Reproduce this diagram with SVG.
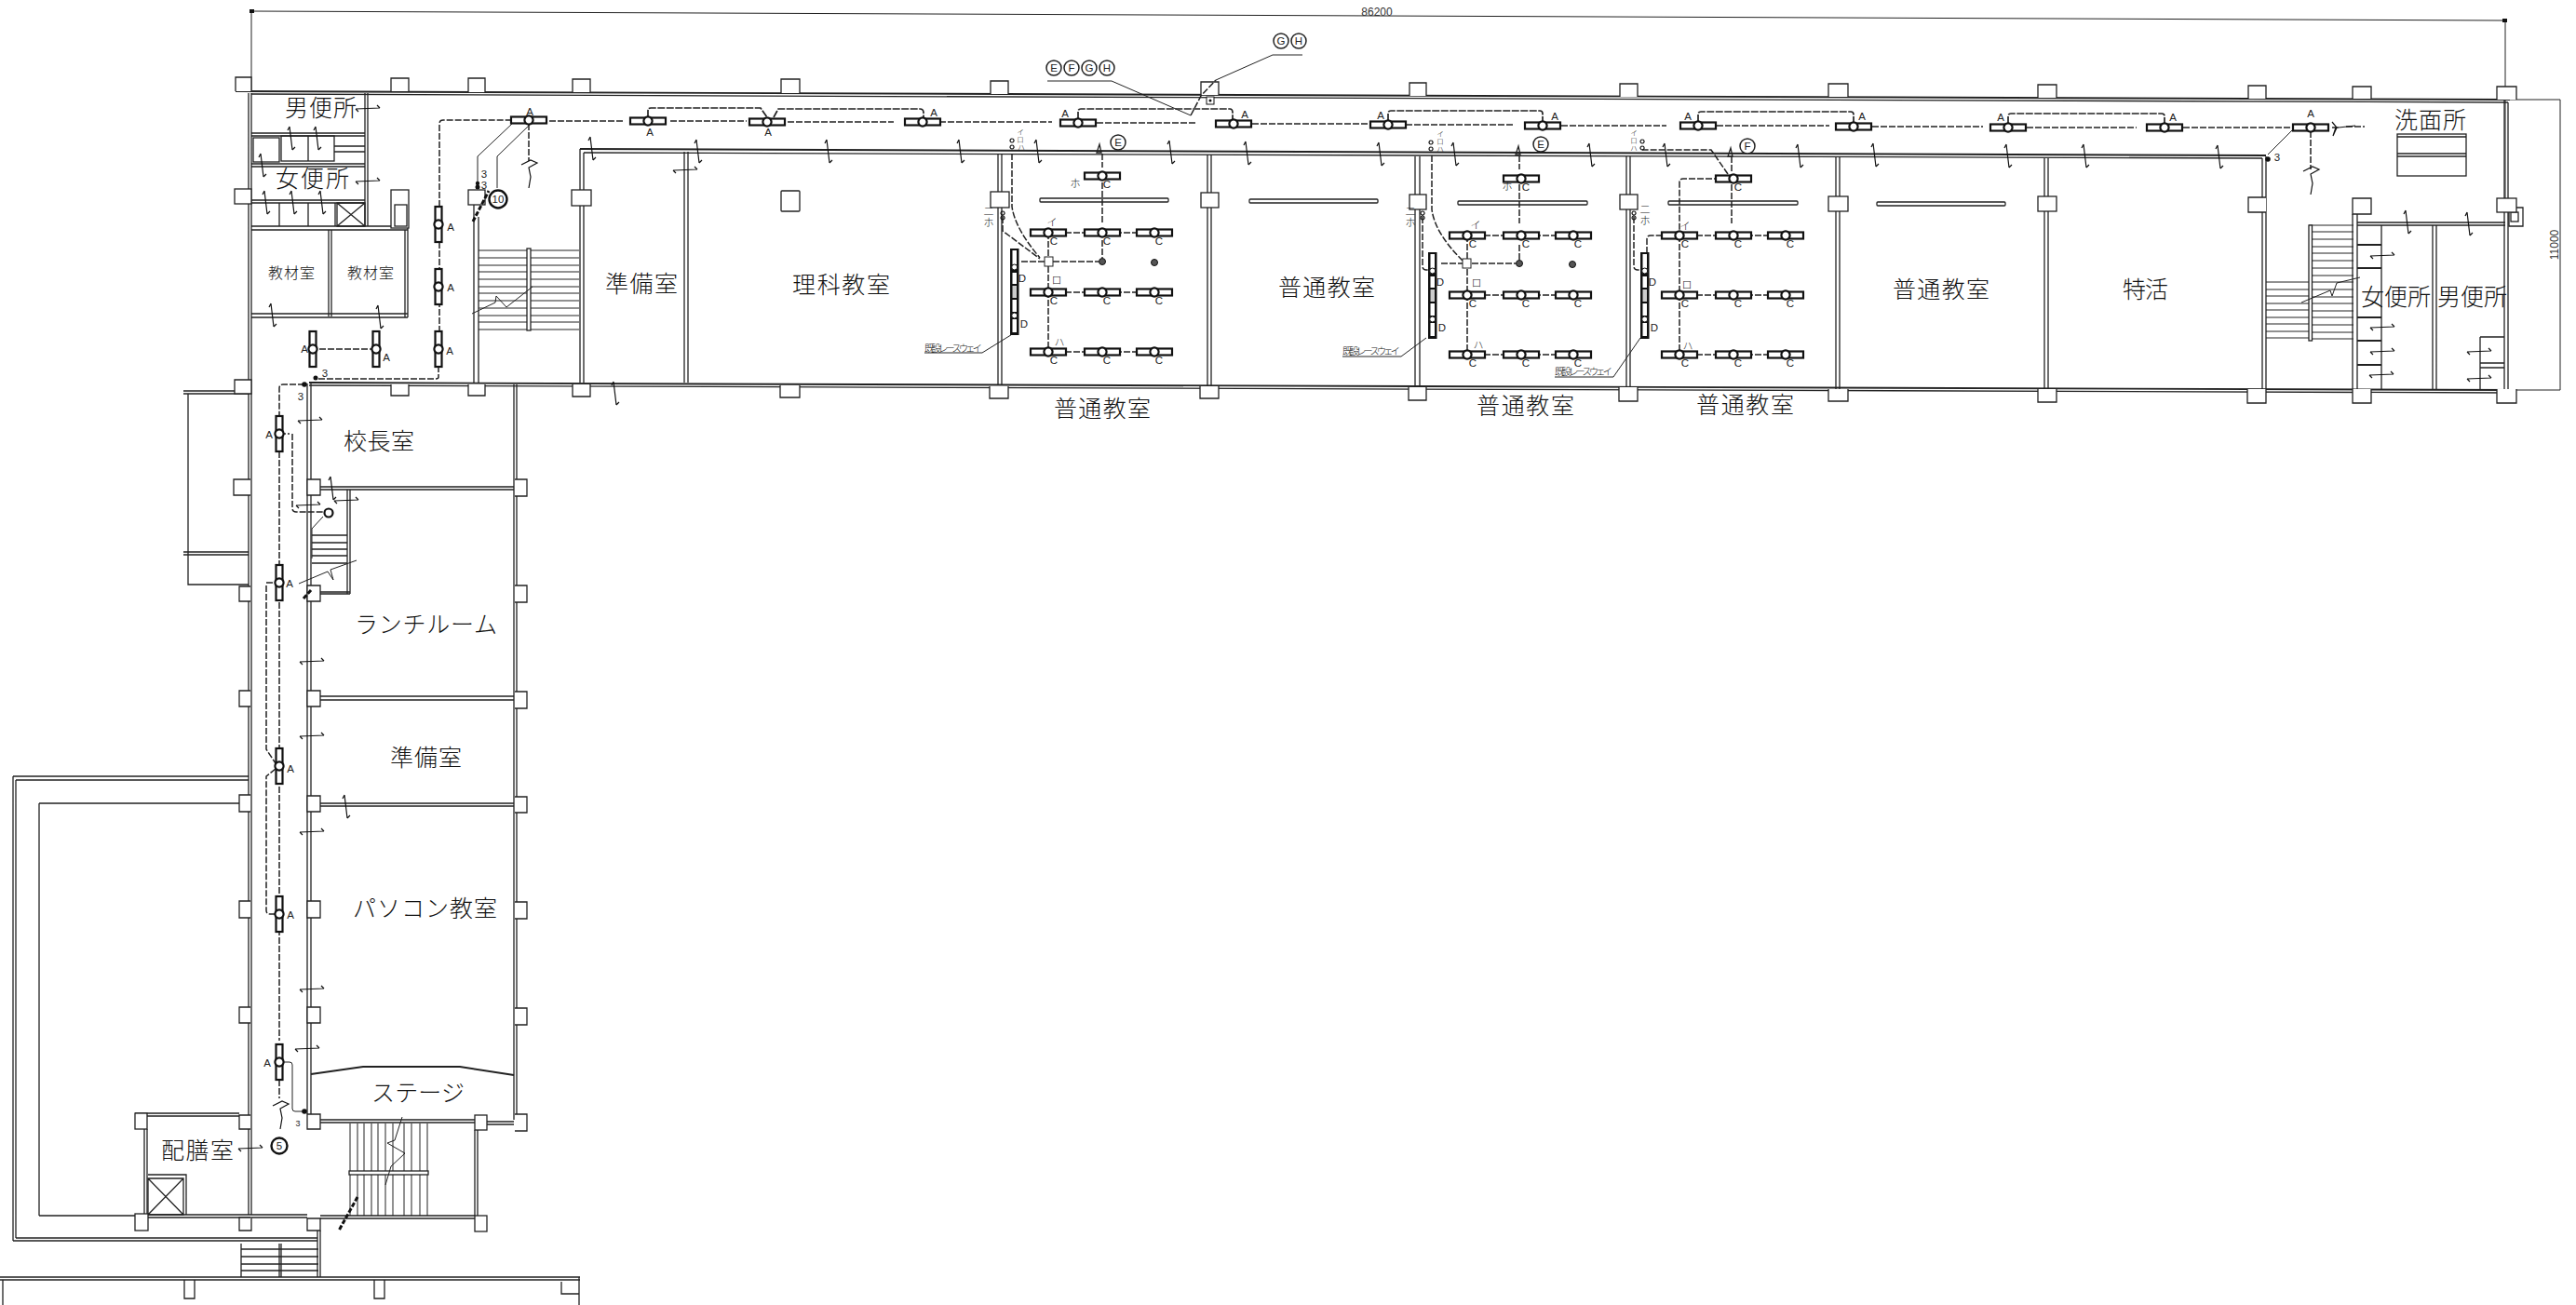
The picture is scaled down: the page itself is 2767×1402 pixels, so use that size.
<svg xmlns="http://www.w3.org/2000/svg" width="2767" height="1402" viewBox="0 0 2767 1402">
<style>
.w{fill:none;stroke:#222;stroke-width:1.3}
.t{fill:none;stroke:#222;stroke-width:1.9}
.s{fill:none;stroke:#222;stroke-width:1}
.c{fill:#fff;stroke:#222;stroke-width:1.3}
.d{fill:none;stroke:#222;stroke-width:1.5;stroke-dasharray:7 2}
.e{fill:none;stroke:#222;stroke-width:1.7;stroke-dasharray:8 1.5}
.b{fill:none;stroke:#111;stroke-width:3;stroke-dasharray:5 2}
.l{fill:#fff;stroke:#111;stroke-width:2.2}
.m{fill:none;stroke:#111;stroke-width:1.2}
.j{font-family:"Noto Sans CJK JP","Liberation Sans",sans-serif;fill:#111;font-weight:300}
.r{font-size:25px}
.k{font-size:11px;text-anchor:middle}
.q{font-size:7.5px;text-anchor:middle}
.a{font-family:"Liberation Sans",sans-serif;font-size:11.5px;text-anchor:middle;fill:#222}
.o{fill:#fff;stroke:#222;stroke-width:1.5}
.o2{fill:#fff;stroke:#111;stroke-width:2.4}
</style>
<defs>
<g id="lh"><rect class="l" x="-19" y="-3.5" width="38" height="7"/><circle class="l" r="4.6"/></g>
<g id="lv"><rect class="l" x="-3.5" y="-19" width="7" height="38"/><circle class="l" r="4.6"/></g>
<path id="dv" class="m" d="M-2-13 1 12M-2-13-4-9M1 12 4 9"/>
<path id="dh" class="m" d="M-13 0 13-1M-13 0-10 3M13-1 10-4"/>
<path id="z" class="m" d="M-8 2 2-3 9 0 0 5 2 15 0 27"/>
<g id="rack"><rect x="0" y="0" width="9.5" height="93" fill="#111"/><g fill="#fff"><rect x="2.5" y="2" width="4.5" height="15"/><rect x="2.5" y="26" width="4.5" height="12"/><rect x="2.5" y="40" width="4.5" height="13" fill="#ccc"/><rect x="2.5" y="55" width="4.5" height="13"/><rect x="2.5" y="76" width="4.5" height="14"/></g><circle cx="4.7" cy="20" r="3" fill="#fff" stroke="#111"/><circle cx="4.7" cy="72" r="3" fill="#fff" stroke="#111"/><text class="a" x="13" y="36">D</text><text class="a" x="15" y="85">D</text></g>
<g id="room">
<path class="d" d="M1126 250H1240M1126 314H1240M1126 378H1240M1126 250V378"/>
<use href="#lh" x="1184" y="189"/><use href="#lh" x="1126" y="250"/><use href="#lh" x="1184" y="250"/><use href="#lh" x="1240" y="250"/><use href="#lh" x="1126" y="314"/><use href="#lh" x="1184" y="314"/><use href="#lh" x="1240" y="314"/><use href="#lh" x="1126" y="378"/><use href="#lh" x="1184" y="378"/><use href="#lh" x="1240" y="378"/>
<g class="a"><text x="1189" y="202">C</text><text x="1132" y="263">C</text><text x="1189" y="263">C</text><text x="1245" y="263">C</text><text x="1132" y="327">C</text><text x="1189" y="327">C</text><text x="1245" y="327">C</text><text x="1132" y="391">C</text><text x="1189" y="391">C</text><text x="1245" y="391">C</text></g>
</g>
</defs>

<g id="dimensions">
<path class="s" d="M270 12 2691 22M270 12V98M2691 22V213M2691 107H2750M2696 419H2750M2750 107V419"/>
<rect x="268" y="10" width="5" height="4" fill="#111"/><rect x="2688" y="20" width="5" height="4" fill="#111"/>
<text x="1479" y="17" font-family="Liberation Sans,sans-serif" font-size="12" text-anchor="middle" fill="#333">86200</text>
<text transform="translate(2750 263) rotate(-90)" font-family="Liberation Sans,sans-serif" font-size="12" text-anchor="middle" fill="#333" y="-2">11000</text>
</g>

<g id="walls">
<path class="t" d="M253 98 2696 107"/>
<path class="w" d="M270 101 2694 110"/>
<path class="t" d="M623 160 2434 167"/><path class="w" d="M627 164 2430 170"/>
<path class="t" d="M332 411 2696 419"/><path class="w" d="M332 414 2696 422"/>
<path class="w" d="M623 160V411M627 164V411M735 163V411M739 163V411M1072 165V413M1076 165V413M1297 166V414M1301 166V414M1520 168V416M1525 168V416M1747 168V416M1751 168V416M1972 169V418M1976 169V418M2196 170V418M2200 170V418M2430 170V418M2434 168V418M509 220V411M514 233V411"/>
<!-- NE block -->
<path class="w" d="M2527 230V418M2532 230V418M2532 239H2691M2532 242H2691M2690 107V418M2694 110V418M2558 242V418M2613 242V418M2617 242V418M2664 362V419M2664 362H2690M2664 390H2690M2664 395H2690"/>
<path class="t" d="M2532 263H2558M2532 288H2558M2532 341H2558M2532 366H2558M2532 392H2558"/>
<rect class="w" x="2575" y="144" width="74" height="45"/><path class="w" d="M2575 147H2649M2575 165H2649M2575 168H2649"/>
<path class="c" d="M2695 223H2710V243H2695Z"/><rect class="w" x="2697" y="228" width="8" height="10"/>
<!-- NW block -->
<path class="w" d="M267 100V1305M270 100V1305M392 100V243M395 100V243M270 143H392M270 146H392M270 176H392M270 179H392M270 215H392M270 218H392M270 243H438M270 247H438M359 157H392M359 163H392M353 247V340M356 247V340M435 247V341M438 245V341M270 337H438M270 341H438"/>
<rect class="w" x="272" y="148" width="28" height="26"/><rect class="w" x="302" y="146" width="57" height="27"/><path class="w" d="M331 146V173M300 218V243M331 218V243M360 218V243"/>
<path class="w" d="M362 218H392V243H362ZM362 218 392 243M392 218 362 243"/>
<!-- west wing -->
<path class="w" d="M330 412V1197M334 412V1197M552 413V1203M555 413V1203M344 523H552M344 526H552M344 748H552M344 752H552M344 863H552M344 866H552"/>
<path class="t" d="M334 1154 390 1146H494L552 1155"/>
<path class="w" d="M344 1203H510M344 1206H510M523 1205H552M523 1208H552"/>
<path class="w" d="M373 526V638M376 526V638M344 636H376M344 638H376M335 575H373M335 583H373M335 590H373M335 597H373M335 605H373"/>
<path class="w" d="M240 423H268M197 420H267M197 423H267M202 423V628H267M197 593H267M197 596H267"/>
<path class="w" d="M14 834V1333M17 838V1330M14 834H267M17 838H267M42 863V1306M42 863H257M42 1306H145M14 1333H341M17 1330H341M341 1322V1372M344 1322V1372"/>
<path class="w" d="M145 1196H257M145 1199H257M155 1213V1306M158 1213V1306M158 1305H330M158 1308H330"/>
<path class="w" d="M159 1262H200V1305M159 1266H197V1305H159ZM159 1266 197 1305M197 1266 159 1305"/>
<!-- south stairs -->
<path class="w" d="M344 1306H510M344 1309H510M510 1214V1306M513 1214V1306"/>
<path class="s" d="M384 1207V1306M391 1207V1306M399 1207V1306M406 1207V1306M414 1207V1306M422 1207V1306M434 1207V1306M442 1207V1306M451 1207V1306M459 1207V1306M376 1207V1306"/>
<rect class="c" x="375" y="1258" width="85" height="4"/>
<path class="w" d="M259 1336V1372M300 1336V1372M302 1336V1372M259 1342H342M259 1350H342M259 1358H342M259 1365H342"/>
<path class="w" d="M0 1372H623M0 1375H623M3 1375V1402M198 1375V1395H209V1375M402 1375V1395H413V1375M603 1377V1390H622M622 1372V1402"/>
<!-- stairs -->
<path class="s" d="M514 269H622M514 277H622M514 285H622M514 292H622M514 300H622M514 308H622M514 315H622M514 323H622M514 331H622M514 339H622M514 346H622M514 354H622"/>
<rect class="c" x="566" y="267" width="4" height="88"/>
<path class="s" d="M2483 249H2528M2483 257H2528M2483 265H2528M2483 272H2528M2483 280H2528M2483 288H2528M2483 296H2528M2483 303H2528M2483 311H2528M2483 319H2528M2483 326H2528M2483 334H2528M2483 341H2528M2483 349H2528M2483 357H2528M2483 364H2528M2434 303H2480M2434 311H2480M2434 318H2480M2434 326H2480M2434 333H2480M2434 341H2480M2434 348H2480M2434 356H2480M2434 363H2480M2480 242H2528"/>
<rect class="c" x="2480" y="242" width="3.5" height="124"/>
<!-- blackboards -->
<g class="c"><rect x="1117" y="213" width="138" height="4" rx="1"/><rect x="1342" y="214" width="138" height="4" rx="1"/><rect x="1566" y="216" width="139" height="4" rx="1"/><rect x="1792" y="216" width="139" height="4" rx="1"/><rect x="2016" y="217" width="138" height="4" rx="1"/><rect x="839" y="205" width="20" height="22" rx="1"/></g>
</g>

<g id="columns" class="c">
<path d="M253 98V83H270V98M420 98V84H439V98M503 99V84H521V99M615 99V85H634V99M839 100V85H859V100M1064 101V87H1083V101M1290 102V88H1309V102M1514 103V89H1532V103M1740 104V90H1759V104M1964 104V90H1985V104M2189 105V91H2209V105M2415 106V92H2434V106M2527 106V93H2547V106M2682 107V93H2703V107"/>
<path d="M420 413V425H439V413M503 413V425H521V413M615 413V426H634V413M838 414V427H859V414M1063 415V428H1083V415M1289 415V428H1309V415M1513 416V430H1532V416M1739 416V431H1759V416M1964 418V431H1985V418M2189 418V432H2209V418M2414 418V433H2434V418M2527 418V433H2547V418M2682 418V433H2703V418"/>
<path d="M252 408V423H270V408Z"/>
<rect x="614" y="204" width="21" height="17"/><rect x="1064" y="206" width="20" height="17"/><rect x="1290" y="207" width="19" height="16"/><rect x="1514" y="209" width="18" height="16"/><rect x="1740" y="209" width="19" height="16"/><rect x="1964" y="211" width="21" height="16"/><rect x="2189" y="211" width="20" height="16"/>
<path d="M2434 212H2415V228H2434"/>
<path d="M2527 213H2547V230H2527Z"/>
<rect x="2682" y="213" width="21" height="15"/>
<rect x="252" y="203" width="18" height="16"/>
<rect x="503" y="204" width="18" height="16"/>
<rect x="420" y="204" width="19" height="41"/><rect x="424" y="220" width="13" height="23"/>
<path d="M269 515H251V532H269M269 630H257V646H269M269 742H257V759H269M269 854H257V872H269M269 968H257V986H269M269 1082H257V1099H269M269 1198H257V1213H269M269 1308H257V1322H270V1308"/>
<path d="M330 515H344V532H330ZM330 629H344V646H330ZM330 742H344V759H330ZM330 855H344V872H330ZM330 968H344V986H330ZM330 1082H344V1099H330ZM330 1197H344V1213H330ZM330 1309H344V1322H330Z"/>
<path d="M553 515H566V533H553M553 629H566V647H553M553 743H566V761H553M553 856H566V873H553M553 969H566V987H553M553 1083H566V1101H553M553 1197H566V1215H553"/>
<rect x="510" y="1198" width="13" height="16"/><rect x="510" y="1306" width="13" height="17"/>
<rect x="145" y="1196" width="13" height="17"/><rect x="145" y="1304" width="14" height="18"/>
</g>

<g id="connectors">
<path class="d" d="M472 375V133Q472 129 476 129H568M590 130H670M720 130H802M846 131H960M1000 131H1130M1178 132H1285M1345 133H1470M1510 134H1626M1677 135H1790M1844 135H1965M2011 136H2130M2177 137H2295M2345 137H2462"/>
<path class="e" d="M696 126V119Q696 116 699 116H817L824 126M831 126 836 117H988Q992 117 992 121V127M1158 128V120Q1158 117 1161 117H1321Q1324 117 1324 121V129M1491 130V122Q1491 119 1494 119H1654Q1657 119 1657 122V131M1824 131V123Q1824 120 1827 120H1988Q1991 120 1991 123V132M2157 133V125Q2157 122 2160 122H2322Q2325 122 2325 125V133"/>
<path class="d" d="M471 375V405Q471 407 468 407H339M327 413H304Q300 413 300 417V447M404 375H336M568 133V173M2482 141V182M2505 137H2512M2520 136H2540"/>
<path class="s" d="M550 133 513 168V195M570 133 534 168V202M2462 140 2436 166"/>
<path class="d" d="M300 485V1118M300 1160V1180M314 466Q314 466 314 470V546Q314 550 318 550H349M300 466H311M286 626H296M286 629V805L296 820M296 826 286 834V978Q286 982 290 982H298"/>
<path class="s" d="M347 555 335 568V600"/>
<path class="s" d="M305 1141H311Q314 1141 314 1144V1191Q314 1194 317 1194H327"/>
<use href="#z" x="568" y="175"/><use href="#z" x="2482" y="182"/><use href="#z" x="301" y="1186"/>
<path class="m" d="M2505 131 2510 137 2506 146 2509 137M2512 137 2530 135"/>
<!-- break lines -->
<path class="s" d="M507 337 532 325 533 318 544 330 572 308M2472 325 2503 312 2505 318 2510 304 2535 298M321 627 352 614 358 623 355 612 383 602M432 1200 424 1225 416 1228 435 1239 420 1253 414 1273"/>
<path class="b" d="M508 238 525 205M326 643 335 633M384 1286 364 1322"/>
<!-- classroom wires -->
<path class="d" d="M1087 165V222Q1090 245 1117 277M1077 233V248L1117 278M1122 281H1096M1131 281H1180M1184 196V240M1184 258V277M1632 198V240M1632 263V279M1538 167V225Q1541 250 1571 280M1528 233V286Q1528 290 1532 290H1537M1548 283H1571M1581 283H1628M1860 198V240M1856 187 1838 161H1764M1857 192H1808Q1804 192 1804 196V250M1769 272V257Q1769 253 1773 253H1800M1755 233V286Q1755 290 1759 290H1762"/>
<path class="d" d="M1184 165V180M1632 167V182M1860 168V184"/>
<path class="s" d="M1125 87H1194L1279 124M1306 86 1367 59H1399M1055 379 1089 358M1505 383 1532 363M1733 405 1762 363"/>
<path class="d" d="M1279 124 1290 103 1306 86"/>
<path class="s" d="M993 379H1055M1442 383H1505M1670 405H1733"/>
<path class="s" d="M1181 155 1178 164H1183ZM1631 157 1628 166H1633ZM1859 159 1856 168H1861Z" style="stroke-width:1.3"/>
</g>

<g id="fixtures">
<use href="#room"/>
<use href="#room" x="450" y="3"/>
<use href="#room" x="678" y="3"/>
<use href="#rack" x="1085" y="267"/><use href="#rack" x="1534" y="271"/><use href="#rack" x="1762" y="271"/>
<g fill="#fff" stroke="#222"><rect x="1122" y="276" width="9" height="10"/><rect x="1571" y="278" width="9" height="10"/></g>
<g fill="#555" stroke="#111"><circle cx="1184" cy="281" r="3.5"/><circle cx="1240" cy="282" r="3.5"/><circle cx="1632" cy="283" r="3.5"/><circle cx="1689" cy="284" r="3.5"/></g>
<use href="#lh" x="568" y="129"/><use href="#lh" x="696" y="130"/><use href="#lh" x="824" y="131"/><use href="#lh" x="991" y="131"/><use href="#lh" x="1158" y="132"/><use href="#lh" x="1325" y="133"/><use href="#lh" x="1491" y="134"/><use href="#lh" x="1657" y="135"/><use href="#lh" x="1824" y="135"/><use href="#lh" x="1991" y="136"/><use href="#lh" x="2157" y="137"/><use href="#lh" x="2325" y="137"/><use href="#lh" x="2482" y="137"/>
<use href="#lv" x="471" y="241"/><use href="#lv" x="471" y="308"/><use href="#lv" x="471" y="375"/><use href="#lv" x="404" y="375"/><use href="#lv" x="336" y="375"/><use href="#lv" x="300" y="466"/><use href="#lv" x="300" y="626"/><use href="#lv" x="300" y="823"/><use href="#lv" x="300" y="982"/><use href="#lv" x="300" y="1141"/>
<circle class="l" cx="353" cy="551" r="4.5"/>
<g fill="#111"><circle cx="339" cy="406" r="2.5"/><circle cx="327" cy="413" r="2.8"/><circle cx="513" cy="197" r="2.2"/><circle cx="513" cy="201" r="2.5"/><circle cx="2436" cy="171" r="2.8"/><circle cx="327" cy="1194" r="2.8"/></g>
<g fill="#fff" stroke="#111"><rect x="1296" y="104" width="8" height="8"/></g><circle cx="1300" cy="108" r="1.5" fill="#111"/>
<g class="a"><text x="569" y="124">A</text><text x="698" y="146">A</text><text x="825" y="146">A</text><text x="1003" y="125">A</text><text x="1144" y="126">A</text><text x="1337" y="127">A</text><text x="1483" y="128">A</text><text x="1670" y="129">A</text><text x="1813" y="129">A</text><text x="2000" y="129">A</text><text x="2149" y="130">A</text><text x="2334" y="130">A</text><text x="2482" y="126">A</text><text x="484" y="248">A</text><text x="484" y="313">A</text><text x="483" y="381">A</text><text x="415" y="388">A</text><text x="327" y="379">A</text><text x="289" y="471">A</text><text x="311" y="631">A</text><text x="312" y="830">A</text><text x="312" y="987">A</text><text x="287" y="1146">A</text>
<text x="349" y="405">3</text><text x="323" y="430">3</text><text x="520" y="191">3</text><text x="520" y="203">3</text><text x="2446" y="173">3</text><text x="320" y="1210" style="font-size:9px">3</text></g>
</g>

<g id="marks">
<use href="#dv" x="636" y="160"/><use href="#dv" x="750" y="163"/><use href="#dv" x="890" y="163"/><use href="#dv" x="1032" y="163"/><use href="#dv" x="1115" y="163"/><use href="#dv" x="1258" y="164"/><use href="#dv" x="1340" y="165"/><use href="#dv" x="1483" y="166"/><use href="#dv" x="1563" y="166"/><use href="#dv" x="1709" y="167"/><use href="#dv" x="1790" y="167"/><use href="#dv" x="1933" y="168"/><use href="#dv" x="2014" y="167"/><use href="#dv" x="2157" y="168"/><use href="#dv" x="2240" y="168"/><use href="#dv" x="2384" y="169"/><use href="#dv" x="2586" y="239"/><use href="#dv" x="2652" y="241"/><use href="#dv" x="313" y="149"/><use href="#dv" x="341" y="149"/><use href="#dv" x="282" y="178"/><use href="#dv" x="286" y="218"/><use href="#dv" x="315" y="218"/><use href="#dv" x="346" y="218"/><use href="#dv" x="293" y="339"/><use href="#dv" x="408" y="341"/><use href="#dv" x="661" y="423"/><use href="#dv" x="357" y="525"/><use href="#dv" x="372" y="867"/>
<use href="#dh" x="395" y="117"/><use href="#dh" x="395" y="195"/><use href="#dh" x="736" y="183"/><use href="#dh" x="333" y="452"/><use href="#dh" x="331" y="543"/><use href="#dh" x="372" y="538"/><use href="#dh" x="335" y="711"/><use href="#dh" x="335" y="791"/><use href="#dh" x="335" y="894"/><use href="#dh" x="335" y="1063"/><use href="#dh" x="330" y="1127"/><use href="#dh" x="269" y="1234"/><use href="#dh" x="2559" y="275"/><use href="#dh" x="2559" y="352"/><use href="#dh" x="2559" y="378"/><use href="#dh" x="2558" y="403"/><use href="#dh" x="2663" y="378"/><use href="#dh" x="2663" y="407"/>
</g>

<g id="callouts">
<g class="o"><circle cx="1132" cy="73" r="8"/><circle cx="1151" cy="73" r="8"/><circle cx="1170" cy="73" r="8"/><circle cx="1189" cy="73" r="8"/><circle cx="1376" cy="44" r="8"/><circle cx="1395" cy="44" r="8"/><circle cx="1201" cy="153" r="8"/><circle cx="1655" cy="155" r="8"/><circle cx="1877" cy="157" r="8"/></g>
<circle class="o2" cx="535" cy="214" r="9.5"/><circle class="o2" cx="300" cy="1231" r="8.5"/>
<g class="a"><text x="1132" y="77">E</text><text x="1151" y="77">F</text><text x="1170" y="77">G</text><text x="1189" y="77">H</text><text x="1376" y="48">G</text><text x="1395" y="48">H</text><text x="1201" y="157">E</text><text x="1655" y="159">E</text><text x="1877" y="161">F</text><text x="535" y="218">10</text><text x="300" y="1235">5</text></g>
<path class="m" d="M1087 149a2 2 0 1 0 .1 0M1087 156a2 2 0 1 0 .1 0M1537 151a2 2 0 1 0 .1 0M1537 158a2 2 0 1 0 .1 0M1764 150a2 2 0 1 0 .1 0M1764 157a2 2 0 1 0 .1 0M1077 227a2 2 0 1 0 .1 0M1077 232a2 2 0 1 0 .1 0M1528 227a2 2 0 1 0 .1 0M1528 232a2 2 0 1 0 .1 0M1755 227a2 2 0 1 0 .1 0M1755 232a2 2 0 1 0 .1 0"/>
<g class="j q">
<text x="1096" y="145">イ</text><text x="1096" y="153">ロ</text><text x="1097" y="161">ハ</text>
<text x="1547" y="147">イ</text><text x="1547" y="155">ロ</text><text x="1547" y="163">ハ</text>
<text x="1755" y="146">イ</text><text x="1755" y="154">ロ</text><text x="1755" y="162">ハ</text>
</g>
<g class="j k">
<text x="1155" y="201">ホ</text><text x="1619" y="204">ホ</text>
<text x="1062" y="231">二</text><text x="1062" y="243">ホ</text><text x="1515" y="231">二</text><text x="1515" y="243">ホ</text><text x="1767" y="229">二</text><text x="1767" y="241">ホ</text>
<text x="1130" y="243">イ</text><text x="1135" y="305">ロ</text><text x="1138" y="372">ハ</text>
<text x="1585" y="246">イ</text><text x="1586" y="308">ロ</text><text x="1588" y="375">ハ</text>
<text x="1810" y="247">イ</text><text x="1812" y="310">ロ</text><text x="1813" y="376">ハ</text>
</g>
<g class="j" font-size="10.5"><text x="993" y="378" textLength="62">既設レースウェイ</text><text x="1442" y="381" textLength="62">既設レースウェイ</text><text x="1670" y="403" textLength="62">既設レースウェイ</text></g>
</g>

<g id="labels" class="j r">
<text x="306" y="125" textLength="77">男便所</text>
<text x="296" y="201" textLength="79">女便所</text>
<text x="288" y="299" textLength="50" style="font-size:16px">教材室</text>
<text x="373" y="299" textLength="50" style="font-size:16px">教材室</text>
<text x="650" y="314" textLength="78">準備室</text>
<text x="851" y="315" textLength="105">理科教室</text>
<text x="1373" y="318" textLength="104">普通教室</text>
<text x="1132" y="448" textLength="104">普通教室</text>
<text x="1586" y="445" textLength="105">普通教室</text>
<text x="1822" y="444" textLength="105">普通教室</text>
<text x="2033" y="320" textLength="104">普通教室</text>
<text x="2280" y="320" textLength="49">特活</text>
<text x="2572" y="138" textLength="77">洗面所</text>
<text x="2536" y="328" textLength="75">女便所</text>
<text x="2618" y="328" textLength="75">男便所</text>
<text x="369" y="483" textLength="76">校長室</text>
<text x="381" y="680" textLength="153">ランチルーム</text>
<text x="419" y="823" textLength="77">準備室</text>
<text x="379" y="985" textLength="155">パソコン教室</text>
<text x="399" y="1183" textLength="100">ステージ</text>
<text x="173" y="1245" textLength="78">配膳室</text>
</g>
</svg>
